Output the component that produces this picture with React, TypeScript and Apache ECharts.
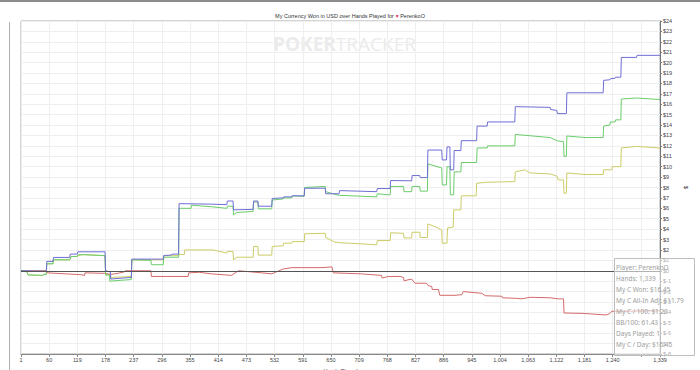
import React, { useEffect, useRef } from 'react';
import * as echarts from 'echarts';

const handsMin = 1;
const handsMax = 1339;
const handsStep = 59;
const yMin = -8;
const yMax = 24;

// [hand, dollars]
const blueSeries: [number, number][] = [
  [1, 0], [54, -0.05], [55, 0.9], [68, 0.9], [69, 1.28], [103, 1.28], [104, 1.6], [119, 1.6], [120, 1.82],
  [177, 1.82], [178, 0.0], [188, -0.1], [189, -0.8], [215, -0.7], [232, -0.65], [233, 1.12], [299, 1.12],
  [300, 1.47], [316, 1.5], [317, 1.6], [331, 1.6], [332, 6.45], [400, 6.4], [432, 6.35], [433, 6.7],
  [445, 6.7], [446, 5.85], [487, 5.9], [488, 6.7], [497, 6.7], [498, 6.2], [526, 6.2], [527, 6.95],
  [550, 7.0], [551, 7.1], [568, 7.1], [569, 7.2], [594, 7.2], [595, 7.93], [638, 7.93], [639, 7.4],
  [667, 7.4], [668, 7.7], [746, 7.6], [747, 7.9], [774, 7.9], [775, 8.67], [819, 8.64], [820, 9.15],
  [836, 9.15], [837, 8.95], [852, 8.95], [853, 11.6], [882, 11.6], [883, 10.65], [892, 10.65], [893, 11.9],
  [899, 11.9], [900, 9.7], [907, 9.7], [908, 11.55], [922, 11.55], [923, 12.5], [955, 12.5], [956, 13.9],
  [977, 13.9], [978, 14.3], [1035, 14.3], [1036, 15.77], [1109, 15.7], [1110, 15.5], [1123, 15.4],
  [1124, 15.1], [1143, 15.1], [1144, 17.1], [1220, 17.1], [1221, 18.3], [1234, 18.35], [1235, 18.45],
  [1245, 18.5], [1246, 18.6], [1257, 18.6], [1258, 20.5], [1290, 20.5], [1291, 20.7], [1339, 20.7],
];

const greenSeries: [number, number][] = [
  [1, 0], [12, 0], [16, -0.4], [47, -0.45], [48, -0.35], [54, -0.35], [55, 0.67], [68, 0.67], [69, 1.05],
  [103, 1.05], [106, 1.37], [119, 1.37], [120, 1.5], [131, 1.55], [177, 1.45], [178, -0.4], [186, -0.4],
  [187, -1.0], [215, -0.9], [232, -0.85], [233, 1.05], [273, 1.0], [274, 0.58], [299, 0.58], [300, 1.3],
  [331, 1.3], [332, 6.0], [357, 6.0], [358, 6.3], [400, 6.15], [432, 6.0], [433, 6.2], [445, 6.2],
  [446, 5.37], [453, 5.6], [487, 5.7], [488, 6.6], [497, 6.6], [498, 5.95], [526, 5.95], [527, 6.8],
  [550, 6.9], [551, 7.0], [568, 7.0], [569, 7.2], [594, 7.15], [595, 8.0], [638, 8.1], [639, 7.6],
  [658, 7.35], [667, 7.25], [746, 7.1], [747, 7.4], [770, 7.3], [774, 7.3], [775, 8.1], [802, 8.1],
  [803, 7.6], [819, 7.6], [820, 8.1], [836, 8.1], [837, 7.65], [852, 7.65], [853, 10.27], [880, 9.9],
  [882, 9.9], [883, 8.25], [892, 8.25], [893, 10.0], [899, 10.0], [900, 7.3], [907, 7.3], [908, 9.5],
  [922, 9.5], [923, 10.4], [955, 10.4], [956, 11.8], [977, 11.8], [978, 12.0], [1035, 12.0], [1036, 13.1],
  [1109, 12.8], [1123, 12.5], [1137, 12.4], [1138, 11.0], [1143, 11.0], [1144, 12.95], [1182, 12.8],
  [1220, 12.8], [1221, 13.9], [1234, 14.0], [1235, 14.3], [1245, 14.3], [1246, 14.5], [1257, 14.5],
  [1258, 16.5], [1290, 16.6], [1339, 16.45],
];

const yellowSeries: [number, number][] = [
  [1, 0], [12, 0], [16, -0.4], [47, -0.45], [48, -0.35], [54, -0.35], [55, 0.67], [68, 0.67], [69, 1.05],
  [103, 1.05], [106, 1.37], [119, 1.37], [120, 1.5], [131, 1.55], [177, 1.45], [178, -0.4], [187, -0.4],
  [188, -0.65], [232, -0.55], [233, 1.05], [299, 1.05], [300, 1.3], [302, 1.45], [331, 1.45], [332, 1.57],
  [343, 1.57], [344, 2.0], [403, 2.0], [432, 1.7], [433, 1.85], [445, 1.85], [446, 1.05], [453, 1.3],
  [487, 1.3], [488, 2.33], [497, 2.33], [498, 1.5], [526, 1.5], [527, 2.33], [550, 2.4], [551, 2.65],
  [568, 2.65], [569, 2.8], [594, 2.8], [595, 3.55], [638, 3.6], [639, 3.2], [658, 2.75], [667, 2.7],
  [746, 2.5], [747, 2.9], [774, 2.9], [775, 3.65], [802, 3.6], [803, 3.15], [819, 3.15], [820, 3.7],
  [836, 3.7], [837, 3.2], [852, 3.2], [853, 4.5], [875, 4.1], [882, 3.9], [883, 2.65], [893, 2.65],
  [894, 4.1], [906, 4.2], [907, 5.85], [922, 5.85], [923, 7.2], [954, 7.2], [955, 8.4], [973, 8.5],
  [1035, 8.57], [1036, 9.5], [1056, 9.7], [1067, 9.4], [1109, 9.3], [1123, 9.1], [1126, 8.73], [1137, 8.73],
  [1138, 7.45], [1143, 7.45], [1144, 9.4], [1182, 9.25], [1220, 9.25], [1221, 9.7], [1238, 9.7],
  [1239, 10.0], [1257, 10.0], [1258, 11.8], [1290, 11.95], [1339, 11.79],
];

const redSeries: [number, number][] = [
  [1, 0], [54, 0], [56, -0.2], [127, -0.38], [134, -0.45], [135, -0.2], [177, -0.25], [189, -0.35],
  [204, -0.25], [218, -0.1], [219, 0.0], [232, 0.0], [273, 0.0], [274, -0.55], [351, -0.55], [352, -0.2],
  [375, -0.15], [400, -0.3], [442, -0.45], [456, 0.0], [505, -0.2], [526, -0.3], [550, 0.17], [568, 0.3],
  [631, 0.3], [652, 0.37], [655, -0.2], [714, -0.3], [756, -0.45], [757, -0.7], [770, -0.55], [795, -0.55],
  [802, -0.64], [803, -0.96], [819, -0.8], [826, -1.2], [850, -1.2], [854, -1.45], [861, -1.5], [862, -1.8],
  [875, -1.8], [878, -2.36], [910, -2.36], [924, -2.3], [927, -2.0], [966, -2.17], [973, -2.4], [1008, -2.45],
  [1009, -2.6], [1039, -2.65], [1049, -2.7], [1067, -2.55], [1109, -2.6], [1126, -2.7], [1137, -2.7],
  [1138, -4.06], [1178, -4.1], [1227, -4.25], [1234, -4.1], [1238, -3.9], [1339, -3.85],
];

const titleText = 'My Currency Won in USD over Hands Played for';
const playerName = 'PerenkoO';
const statLines = [
  'Player: PerenkoO',
  'Hands: 1,339',
  'My C Won: $16.45',
  'My C All-In Adj: $11.79',
  'My C / 100: $1.23',
  'BB/100: 61.43',
  'Days Played: 1',
  'My C / Day: $16.45',
];

export default function App() {
  const ref = useRef<HTMLDivElement>(null);

  useEffect(() => {
    document.body.style.margin = '0';
    if (!ref.current) return;
    const chart = echarts.init(ref.current, null, { renderer: 'svg' });
    const toAxis = (d: [number, number][]) => d.map(([h, v]) => [h - handsMin, v]);
    const mk = (name: string, data: [number, number][], color: string, extra: any = {}) => ({
      type: 'line',
      name,
      data: toAxis(data),
      showSymbol: false,
      symbol: 'none',
      silent: true,
      lineStyle: { color, width: 1 },
      itemStyle: { color },
      ...extra,
    });

    const statGraphics: any[] = [
      {
        type: 'rect',
        shape: { x: 614.5, y: 258.5, width: 80, height: 97 },
        style: { fill: 'rgba(255,255,255,0.55)', stroke: '#bdbdbd', lineWidth: 1 },
        z: 100,
        silent: true,
      },
      ...statLines.map((t, i) => ({
        type: 'text',
        x: 616,
        y: 267 + i * 11,
        style: {
          text: t,
          fill: '#a0a0a0',
          fontSize: 6.5,
          fontFamily: 'Noto Sans',
          verticalAlign: 'middle',
          align: 'left',
        },
        z: 101,
        silent: true,
      })),
    ];

    chart.setOption({
      animation: false,
      backgroundColor: '#ffffff',
      title: {
        text: titleText + ' {h|\u2665} ' + playerName,
        left: 'center',
        top: 8,
        textStyle: {
          fontSize: 5.5,
          fontWeight: 'normal',
          color: '#333',
          fontFamily: 'Liberation Sans',
          rich: { h: { fontSize: 5.5, color: '#e8506a' } },
        },
      },
      grid: {
        left: 21,
        right: 40,
        top: 21,
        bottom: 16,
        show: true,
        borderColor: '#a8a8a8',
        borderWidth: 1,
        outerBoundsMode: 'none',
        containLabel: false,
      },
      xAxis: {
        type: 'value',
        min: 0,
        max: handsMax - handsMin,
        interval: handsStep,
        name: 'Hands Played',
        nameLocation: 'middle',
        nameGap: 10,
        nameTextStyle: { fontSize: 5.5, color: '#444', fontFamily: 'Liberation Sans' },
        axisLine: { show: true, onZero: false, lineStyle: { color: '#888', width: 1 } },
        axisTick: { show: true, length: 3, lineStyle: { color: '#888' } },
        axisLabel: {
          fontSize: 5.5,
          color: '#444',
          margin: 3,
          fontFamily: 'Liberation Sans',
          showMinLabel: true,
          showMaxLabel: true,
          hideOverlap: false,
          formatter: (v: number) => {
            const h = Math.round(v) + handsMin;
            if (h === 1299) return '';
            return h.toLocaleString('en-US');
          },
        },
        splitLine: { show: true, lineStyle: { color: '#efefef', width: 1 } },
      },
      yAxis: {
        type: 'value',
        position: 'right',
        min: yMin,
        max: yMax,
        interval: 1,
        name: '$',
        nameLocation: 'middle',
        nameGap: 17,
        nameRotate: -90,
        nameTextStyle: { fontSize: 6, color: '#444', fontFamily: 'Liberation Sans' },
        axisLine: { show: true, onZero: false, lineStyle: { color: '#777', width: 1 } },
        axisTick: { show: true, length: 2, lineStyle: { color: '#777' } },
        axisLabel: {
          fontSize: 5.5,
          color: '#444',
          margin: 3,
          fontFamily: 'Liberation Sans',
          formatter: (v: number) => '$' + v,
        },
        splitLine: { show: true, lineStyle: { color: '#efefef', width: 1 } },
      },
      graphic: [
        {
          type: 'rect',
          shape: { x: 0, y: 0, width: 700, height: 2 },
          style: { fill: '#8c8c8c' },
          silent: true,
        },
        {
          type: 'line',
          shape: { x1: 9.5, y1: 22, x2: 9.5, y2: 370 },
          style: { stroke: '#b0b0b0', lineWidth: 1 },
          silent: true,
        },
        {
          type: 'text',
          x: 273,
          y: 44,
          style: {
            text: '{b|POKER}{r|TRACKER}',
            verticalAlign: 'middle',
            rich: {
              b: { fontSize: 19, fontWeight: 'bold', fill: '#ebebeb', fontFamily: 'Open Sans' },
              r: { fontSize: 19, fontWeight: 'normal', fill: '#ebebeb', fontFamily: 'Open Sans' },
            },
          },
          z: -1,
          silent: true,
        },
        ...statGraphics,
      ],
      series: [
        mk('All-In Adj', yellowSeries, '#cccc66', {
          markLine: {
            silent: true,
            symbol: 'none',
            label: { show: false },
            lineStyle: { color: '#555', width: 1, type: 'solid' },
            data: [{ yAxis: 0 }],
          },
        }),
        mk('Non-showdown', redSeries, '#d46a6a'),
        mk('Won', greenSeries, '#6acc6a'),
        mk('Won (blue)', blueSeries, '#6e6ed6'),
      ],
    });

    return () => chart.dispose();
  }, []);

  return <div ref={ref} style={{ width: 700, height: 370 }} />;
}
